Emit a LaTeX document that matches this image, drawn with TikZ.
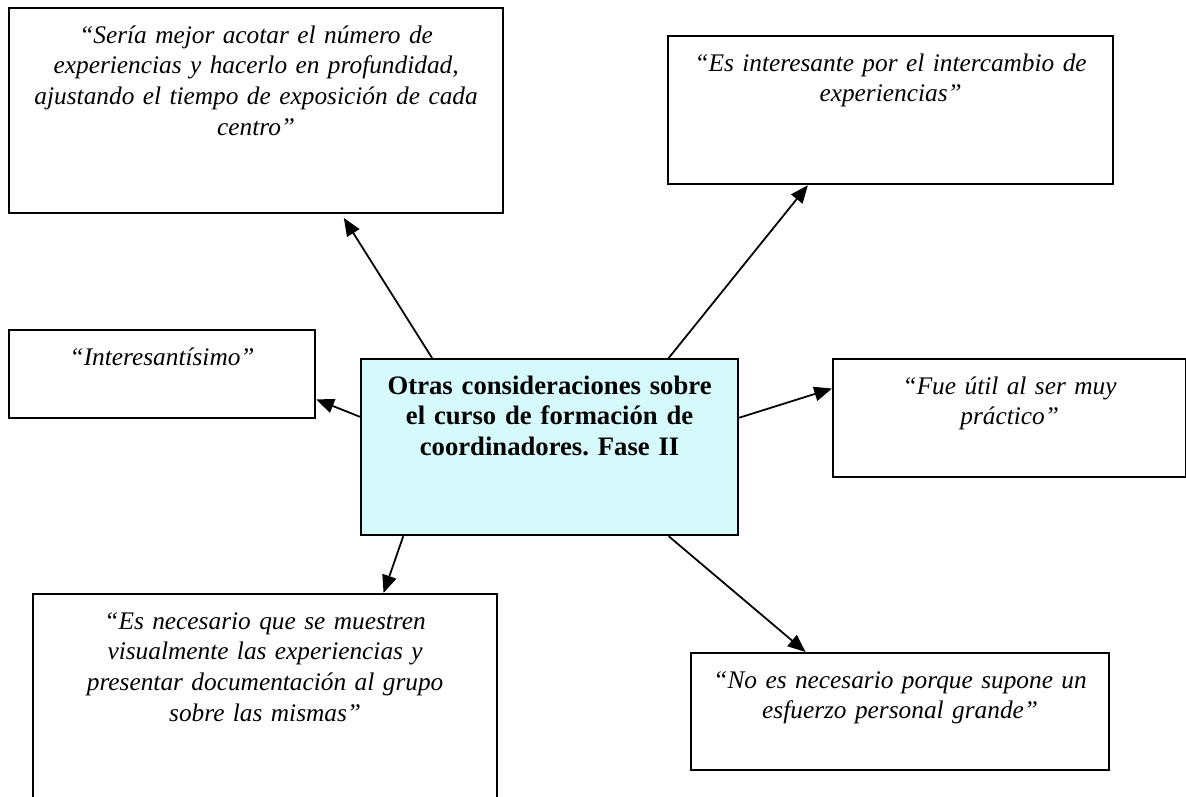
\documentclass[tikz,border=0pt]{standalone}
\usepackage{fontspec}
\setmainfont{Liberation Serif}
\usetikzlibrary{arrows.meta,calc}
\definecolor{fondotema}{RGB}{214,250,252}
\frenchspacing
\tikzset{
  caja/.style={draw, line width=1pt, anchor=north west, align=center,
    inner xsep=5pt, inner ysep=6.75pt, text height=9pt,
    font=\fontsize{12}{13.8}\selectfont},
  cita/.style={caja, font=\fontsize{11.4}{13.8}\selectfont\itshape},
  flecha/.style={line width=0.8pt, -{Triangle[length=8pt,width=6.5pt]}}
}
\begin{document}
\begin{tikzpicture}[x=0.45pt,y=-0.45pt]
\useasboundingbox (0,0) rectangle (1186,796);
\clip (0,0) rectangle (1186,796);

% tema central
\node[caja, fill=fondotema, text width=159.65pt, text depth=56.7pt] (core) at (360,358)
  {\bfseries Otras consideraciones sobre\\ \bfseries el curso de formación de\\ \bfseries coordinadores. Fase II};

% citas
\node[cita, text width=212.3pt, text depth=69.75pt] (q1) at (8,7)
  {“Sería mejor acotar el número de\\ experiencias y hacerlo en profundidad,\\ ajustando el tiempo de exposición de cada\\ centro”};
\node[cita, text width=190.25pt, text depth=44.1pt] (q2) at (667,35)
  {“Es interesante por el intercambio de\\ experiencias”};
\node[cita, text width=127.7pt, text depth=17.1pt] (q3) at (8,329)
  {“Interesantísimo”};
\node[cita, text width=148.85pt, text depth=30.6pt] (q4) at (832,358)
  {“Fue útil al ser muy\\ práctico”};
\node[cita, text width=198.8pt, text depth=76.5pt] (q5) at (32,593)
  {“Es necesario que se muestren\\ visualmente las experiencias y\\ presentar documentación al grupo\\ sobre las mismas”};
\node[cita, text width=178.1pt, text depth=30.15pt] (q6) at (690,652)
  {“No es necesario porque supone un\\ esfuerzo personal grande”};

% flechas
\draw[flecha, shorten >=2pt] ($(core.north west)!0.19!(core.north east)$) -- ($(q1.south west)!0.672!(q1.south east)$);
\draw[flecha] ($(core.north west)!0.814!(core.north east)$) -- ($(q2.south west)!0.315!(q2.south east)$);
\draw[flecha] ($(core.north west)!0.33!(core.south west)$) -- ($(q3.north east)!0.78!(q3.south east)$);
\draw[flecha] ($(core.north east)!0.335!(core.south east)$) -- ($(q4.north west)!0.254!(q4.south west)$);
\draw[flecha] ($(core.south west)!0.114!(core.south east)$) -- ($(q5.north west)!0.754!(q5.north east)$);
\draw[flecha] ($(core.south west)!0.814!(core.south east)$) -- ($(q6.north west)!0.275!(q6.north east)$);
\end{tikzpicture}
\end{document}
